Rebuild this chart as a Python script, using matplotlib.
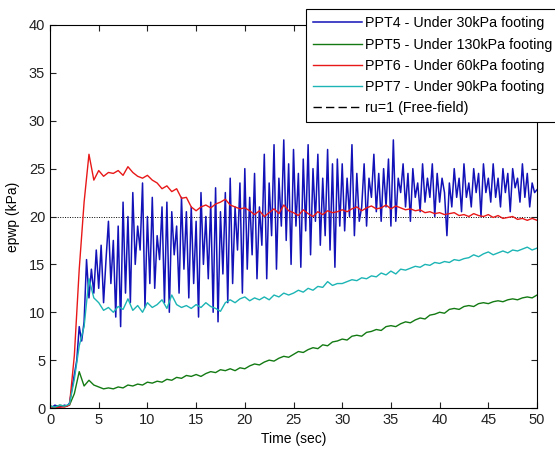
import numpy as np
import matplotlib
matplotlib.use("Agg")
import matplotlib.pyplot as plt
from matplotlib.lines import Line2D

plt.rcParams['font.family'] = ['Liberation Sans', 'DejaVu Sans']

# time axes (sec)
t_slow = np.arange(0, 50.01, 0.5)
t_fast = np.arange(0, 50.01, 0.25)

# PPT4 - under 30kPa footing (read every 0.25 s)
ppt4 = [0.2, 0.1, 0.3, 0.2, 0.1, 0.2, 0.3, 0.2,
        0.5, 2.0, 3.5, 5.0, 8.5, 7.0, 9.0, 15.5,
        11.5, 14.5, 12.0, 16.5, 12.5, 17.0, 11.0, 15.5,
        19.5, 13.0, 17.5, 9.5, 19.0, 8.5, 21.5, 12.0,
        20.0, 11.0, 22.5, 15.0, 19.0, 16.5, 23.5, 10.5,
        20.0, 13.0, 22.0, 12.5, 18.0, 15.5, 21.0, 11.0,
        21.5, 10.0, 20.5, 16.0, 19.0, 12.0, 22.0, 14.5,
        20.5, 11.5, 21.0, 13.0, 19.5, 9.5, 22.5, 15.0,
        20.0, 13.5, 21.5, 10.0, 23.0, 9.0, 20.5, 14.0,
        22.5, 11.0, 24.0, 13.0, 21.0, 16.5, 23.5, 12.0,
        25.0, 14.5, 22.0, 16.0, 24.5, 13.5, 21.0, 17.0,
        26.5, 13.5, 23.5, 18.0, 27.5, 14.5, 24.0, 19.0,
        28.0, 17.5, 25.5, 15.0, 27.0, 19.0, 24.5, 14.7,
        26.0, 18.5, 27.5, 16.0, 25.0, 19.5, 26.5, 17.0,
        24.0, 18.0, 27.0, 16.5, 25.5, 14.7, 26.0, 19.0,
        25.5, 18.5, 24.0, 20.0, 27.5, 18.0, 24.5, 19.5,
        21.0, 25.5, 19.0, 24.0, 22.0, 26.5, 20.5, 24.5,
        19.5, 25.0, 21.0, 26.0, 19.0, 28.0, 19.5, 24.0,
        22.5, 25.5, 21.0, 24.5, 19.5, 25.0, 22.0, 23.5,
        20.5, 25.5, 21.5, 24.0, 22.0, 25.5, 20.0, 24.5,
        21.5, 24.0, 22.5, 18.0, 23.5, 21.0, 25.0, 22.0,
        24.0, 20.5, 25.5, 22.0, 23.5, 21.0, 25.0, 22.5,
        24.5, 20.0, 25.5, 22.5, 24.0, 21.5, 25.5, 22.0,
        24.0, 21.0, 25.0, 22.5, 24.5, 20.5, 25.0, 23.0,
        24.0, 21.5, 25.5, 22.0, 24.5, 21.0, 23.5, 22.5,
        22.8]

# PPT5 - under 130kPa footing (every 0.5 s)
ppt5 = [0.2, 0.1, 0.3, 0.2, 0.3, 1.5, 3.8, 2.3, 2.9, 2.4,
        2.2, 2.0, 2.1, 2.0, 2.2, 2.1, 2.4, 2.3, 2.5, 2.4,
        2.7, 2.6, 2.8, 2.7, 3.0, 2.9, 3.2, 3.1, 3.4, 3.3,
        3.5, 3.3, 3.6, 3.8, 3.7, 4.0, 3.9, 4.1, 3.9, 4.2,
        4.1, 4.4, 4.6, 4.5, 4.8, 5.0, 4.9, 5.2, 5.4, 5.3,
        5.6, 5.9, 5.8, 6.1, 6.3, 6.2, 6.6, 6.5, 6.9, 7.0,
        7.2, 7.1, 7.5, 7.6, 7.5, 7.9, 8.0, 8.2, 8.1, 8.5,
        8.6, 8.5, 8.8, 9.0, 8.9, 9.2, 9.4, 9.3, 9.7, 9.8,
        10.0, 9.9, 10.3, 10.4, 10.3, 10.6, 10.7, 10.6, 10.9, 11.0,
        10.9, 11.1, 11.2, 11.1, 11.3, 11.4, 11.3, 11.5, 11.6, 11.5,
        11.8]

# PPT6 - under 60kPa footing
ppt6 = [0.0, 0.0, 0.1, 0.1, 0.3, 5.5, 14.5, 21.5, 26.5, 23.8,
        24.8, 24.2, 24.6, 24.5, 24.8, 24.3, 25.2, 24.6, 24.2, 24.0,
        24.3, 23.8, 23.5, 22.9, 23.2, 22.6, 22.9, 21.9, 22.0, 21.0,
        20.6, 21.0, 21.2, 20.9, 21.3, 21.5, 21.8, 21.2, 21.0, 20.8,
        20.9, 20.6, 20.2, 20.6, 20.0, 20.4, 20.8, 20.3, 21.2, 20.6,
        20.4, 20.1, 20.7, 20.3, 20.0, 20.5, 20.2, 20.6, 20.4, 20.5,
        20.7, 20.5, 20.8, 21.0, 20.6, 20.9, 21.1, 20.8, 20.9, 21.2,
        20.8, 21.1, 20.9, 20.7, 20.8, 20.6, 20.7, 20.4, 20.5, 20.3,
        20.4, 20.2, 20.3, 20.4, 20.1, 20.2, 20.0, 20.3, 20.1, 20.0,
        20.2, 19.9, 20.1, 19.8, 19.9, 20.0, 19.7, 19.8, 19.6, 19.8,
        19.6]

# PPT7 - under 90kPa footing
ppt7 = [0.2, 0.1, 0.3, 0.2, 0.4, 3.0, 6.5, 8.5, 13.5, 11.5,
        11.0, 10.2, 10.5, 10.0, 10.6, 10.3, 11.4, 10.2, 10.7, 10.0,
        11.0, 10.5, 10.8, 11.3, 10.4, 11.8, 10.8, 10.5, 10.7, 10.4,
        10.8, 10.5, 11.0, 10.6, 10.4, 10.1, 11.0, 11.3, 11.0, 11.4,
        11.6, 11.2, 11.5, 11.3, 11.6, 11.3, 11.8, 11.6, 12.0, 11.8,
        12.0, 12.3, 12.1, 12.5, 12.3, 12.7, 12.6, 13.2, 12.8, 13.0,
        13.0, 13.2, 13.4, 13.3, 13.6, 13.5, 13.8, 13.7, 14.1, 13.9,
        14.3, 14.0, 14.5, 14.4, 14.6, 14.8, 14.7, 15.0, 14.9, 15.2,
        15.1, 15.3, 15.2, 15.5, 15.4, 15.6, 15.7, 16.0, 15.8, 16.1,
        16.3, 16.0, 16.2, 16.4, 16.2, 16.5, 16.4, 16.6, 16.8, 16.5,
        16.7]

# free-field ru=1 level
ff_x = [0, 50]
ff_y = [20, 20]

fig = plt.figure(figsize=(5.55, 4.51), dpi=100)
ax = fig.add_axes([0.0901, 0.0953, 0.8775, 0.8493])

l4, = ax.plot(t_fast, ppt4, color='#1212b8', lw=1.1)
l5, = ax.plot(t_slow, ppt5, color='#137a13', lw=1.0)
l6, = ax.plot(t_slow, ppt6, color='#e81818', lw=1.0)
l7, = ax.plot(t_slow, ppt7, color='#1cb4b4', lw=1.0)
ax.plot(ff_x, ff_y, color='black', lw=0.7, linestyle=(0, (1, 1.5)), zorder=0.5)
lff = Line2D([], [], color='black', lw=1.0, linestyle=(0, (6, 3)))

ax.set_xlim(0, 50)
ax.set_ylim(0, 40)
ax.set_xticks(range(0, 51, 5))
ax.set_yticks(range(0, 41, 5))
ax.tick_params(direction='in', top=True, right=True, length=4, labelsize=10.5,
               colors='#222222')
for s in ax.spines.values():
    s.set_linewidth(0.8)
ax.set_xlabel('Time (sec)', fontsize=10)
ax.set_ylabel('epwp (kPa)', fontsize=10, labelpad=6)

leg = fig.legend([l4, l5, l6, l7, lff],
                 ['PPT4 - Under 30kPa footing', 'PPT5 - Under 130kPa footing',
                  'PPT6 - Under 60kPa footing', 'PPT7 - Under 90kPa footing',
                  'ru=1 (Free-field)'],
                 loc='upper left', bbox_to_anchor=(306 / 555, 442 / 451),
                 fontsize=10.3, fancybox=False, framealpha=1, edgecolor='black',
                 handlelength=3.4, handletextpad=0.2, labelspacing=0.5,
                 borderpad=0.52, borderaxespad=0)
leg.get_frame().set_linewidth(0.8)

fig.savefig('out.png', dpi=100)
